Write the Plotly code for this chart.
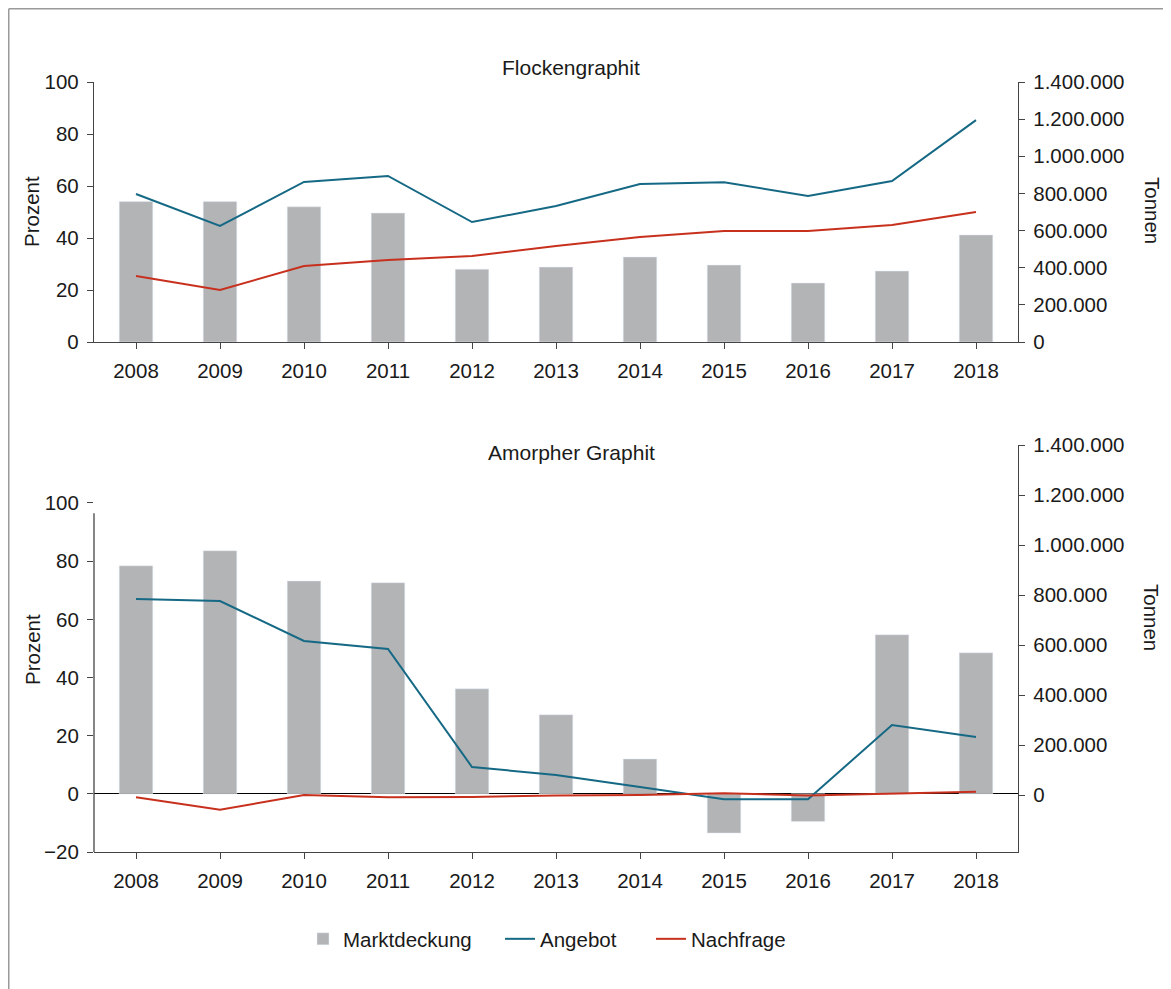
import plotly.graph_objects as go

years = ["2008", "2009", "2010", "2011", "2012", "2013", "2014", "2015", "2016", "2017", "2018"]

# Flockengraphit
flake_marktdeckung = [54.0, 54.0, 52.0, 49.6, 28.0, 28.8, 32.7, 29.6, 22.7, 27.3, 41.2]
flake_angebot = [797000, 625000, 862000, 894000, 646000, 732000, 851000, 860000, 786000, 867000, 1195000]
flake_nachfrage = [355000, 280000, 409000, 442000, 463000, 517000, 565000, 598000, 598000, 630000, 700000]

# Amorpher Graphit
amorph_marktdeckung = [78.4, 83.6, 73.2, 72.6, 36.1, 27.2, 12.0, -13.5, -9.5, 54.7, 48.5]
amorph_angebot = [784000, 776000, 616000, 584000, 112000, 80000, 32000, -17000, -17000, 280000, 232000]
amorph_nachfrage = [-9000, -59000, 0, -9000, -8000, -2000, 0, 7000, -2000, 7000, 13000]

pct_ticks_top = [0, 20, 40, 60, 80, 100]
pct_ticks_bottom = [-20, 0, 20, 40, 60, 80, 100]
pct_text_bottom = ["\u221220", "0", "20", "40", "60", "80", "100"]
t_ticks = [0, 200000, 400000, 600000, 800000, 1000000, 1200000, 1400000]
t_text = ["0", "200.000", "400.000", "600.000", "800.000", "1.000.000", "1.200.000", "1.400.000"]

# page has an 8px body margin, so the figure is 8px smaller than the window
OFF = 8
W, H = 1171 - OFF, 989 - OFF
GREY = "#b3b4b6"
BLUE = "#156985"
RED = "#c8301e"
AX = "#444444"
TXT = "#1a1a1a"
FONT = "Liberation Sans, Arial, sans-serif"
FS = 20.5


def px(x):
    return (x - OFF) / W


def py(y):
    return 1 - (y - OFF) / H


fig = go.Figure()

fig.add_trace(go.Bar(x=years, y=flake_marktdeckung, name="Marktdeckung", marker_color=GREY,
                     width=0.4, xaxis="x", yaxis="y", legendrank=1, legendwidth=152))
fig.add_trace(go.Scatter(x=years, y=flake_angebot, name="Angebot", mode="lines",
                         line=dict(color=BLUE, width=2), xaxis="x", yaxis="y2", legendrank=2,
                         legendwidth=106))
fig.add_trace(go.Scatter(x=years, y=flake_nachfrage, name="Nachfrage", mode="lines",
                         line=dict(color=RED, width=2), xaxis="x", yaxis="y2", legendrank=3))

fig.add_trace(go.Bar(x=years, y=amorph_marktdeckung, name="Marktdeckung", marker_color=GREY,
                     width=0.4, xaxis="x2", yaxis="y3", showlegend=False))
fig.add_trace(go.Scatter(x=years, y=amorph_angebot, name="Angebot", mode="lines",
                         line=dict(color=BLUE, width=2), xaxis="x2", yaxis="y4", showlegend=False))
fig.add_trace(go.Scatter(x=years, y=amorph_nachfrage, name="Nachfrage", mode="lines",
                         line=dict(color=RED, width=2), xaxis="x2", yaxis="y4", showlegend=False))

xdom = [px(94), px(1018)]
top_dom = [py(342), py(82)]
bot_dom = [py(852), py(445)]

tickfont = dict(size=FS, color=TXT)
xcommon = dict(type="category", range=[-0.5, 10.5], showline=True, linecolor=AX, linewidth=1.3,
               ticks="outside", ticklen=6, tickcolor=AX, showgrid=False, zeroline=False,
               tickfont=tickfont, ticklabelstandoff=4, automargin=False)
ycommon = dict(ticks="outside", ticklen=6, tickcolor=AX, showgrid=False, tickfont=tickfont,
               ticklabelstandoff=4, automargin=False)

fig.update_layout(
    width=W, height=H,
    margin=dict(l=0, r=0, t=0, b=0, pad=0, autoexpand=False),
    paper_bgcolor="white", plot_bgcolor="rgba(0,0,0,0)",
    font=dict(family=FONT, size=FS, color=TXT),
    barmode="overlay",
    showlegend=True,
    legend=dict(orientation="h", x=px(303), xanchor="left", y=py(939), yanchor="middle",
                font=dict(size=FS, color=TXT), traceorder="normal", itemwidth=30,
                bgcolor="rgba(0,0,0,0)"),
    xaxis=dict(domain=xdom, anchor="y", **xcommon),
    xaxis2=dict(domain=xdom, anchor="y3", **xcommon),
    yaxis=dict(domain=top_dom, anchor="x", range=[0, 100], tickvals=pct_ticks_top,
               showline=True, linecolor=AX, linewidth=1.3, zeroline=False, **ycommon),
    yaxis2=dict(overlaying="y", side="right", anchor="x", range=[0, 1400000], tickvals=t_ticks,
                ticktext=t_text, showline=True, linecolor=AX, linewidth=1.3, zeroline=False, **ycommon),
    yaxis3=dict(domain=bot_dom, anchor="x2", range=[-20, 119.94], tickvals=pct_ticks_bottom,
                ticktext=pct_text_bottom, showline=False, zeroline=True, zerolinecolor="black",
                zerolinewidth=1.2, **ycommon),
    yaxis4=dict(overlaying="y3", side="right", anchor="x2", range=[-228000, 1400000], tickvals=t_ticks,
                ticktext=t_text, showline=True, linecolor=AX, linewidth=1.3, zeroline=False, **ycommon),
)

# left axis line of lower panel (starts slightly below the 100 tick, as in the original)
fig.add_shape(type="line", xref="paper", yref="y3", x0=px(94), x1=px(94), y0=-20, y1=96.5,
              line=dict(color=AX, width=1.3))
# frame lines of the image
fig.add_shape(type="line", xref="paper", yref="paper", x0=px(8.75), x1=1, y0=py(8.75), y1=py(8.75),
              line=dict(color="#9a9a9a", width=1.5))
fig.add_shape(type="line", xref="paper", yref="paper", x0=px(8.75), x1=px(8.75), y0=py(8.75), y1=0,
              line=dict(color="#9a9a9a", width=1.5))

ann = [
    dict(text="Flockengraphit", x=px(571), y=py(67), font=dict(size=21, color=TXT)),
    dict(text="Amorpher Graphit", x=px(571), y=py(452), font=dict(size=21, color=TXT)),
    dict(text="Prozent", x=px(32), y=py(212), textangle=-90, font=dict(size=FS, color=TXT)),
    dict(text="Prozent", x=px(32), y=py(650), textangle=-90, font=dict(size=FS, color=TXT)),
    dict(text="Tonnen", x=px(1152), y=py(210), textangle=90, font=dict(size=FS, color=TXT)),
    dict(text="Tonnen", x=px(1152), y=py(617), textangle=90, font=dict(size=FS, color=TXT)),
]
for a in ann:
    fig.add_annotation(xref="paper", yref="paper", showarrow=False, xanchor="center", yanchor="middle",
                       **a)

fig.write_html("out.html")
